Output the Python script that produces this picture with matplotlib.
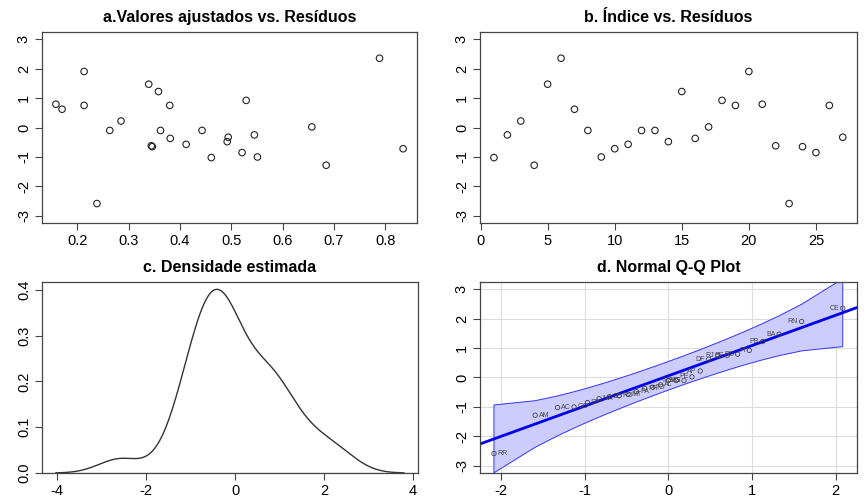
import numpy as np
import matplotlib
matplotlib.use('Agg')
import matplotlib.pyplot as plt
import seaborn as sns
from statistics import NormalDist

plt.rcParams['font.family'] = ['Liberation Sans', 'DejaVu Sans']
plt.rcParams['axes.unicode_minus'] = False

# residuos do modelo por UF
ufs = ['AC', 'AL', 'AP', 'AM', 'BA', 'CE', 'DF', 'ES', 'GO', 'MA', 'MT', 'MS', 'MG', 'PA',
       'PB', 'PR', 'PE', 'PI', 'RJ', 'RN', 'RS', 'RO', 'RR', 'SC', 'SP', 'SE', 'TO']
residuos = [-1.02, -0.25, 0.22, -1.28, 1.47, 2.35, 0.62, -0.10, -1.00, -0.72, -0.57, -0.10,
            -0.10, -0.48, 1.22, -0.37, 0.02, 0.92, 0.75, 1.90, 0.79, -0.62, -2.58, -0.65,
            -0.85, 0.75, -0.33]
ajustados = [0.461, 0.545, 0.285, 0.685, 0.339, 0.789, 0.170, 0.263, 0.551, 0.835, 0.412,
             0.362, 0.443, 0.492, 0.358, 0.381, 0.657, 0.529, 0.213, 0.213, 0.158, 0.344,
             0.238, 0.346, 0.521, 0.380, 0.494]
indice = list(range(1, len(residuos) + 1))

titulos = ['a.Valores ajustados vs. Resíduos', 'b. Índice vs. Resíduos',
           'c. Densidade estimada', 'd. Normal Q-Q Plot']

res = np.array(residuos)
n = len(res)

fig = plt.figure(figsize=(8.68, 5.04), dpi=100)
ax_a = fig.add_axes([0.0484, 0.5575, 0.432, 0.379])
ax_b = fig.add_axes([0.553, 0.5575, 0.434, 0.379])
ax_c = fig.add_axes([0.0484, 0.0615, 0.433, 0.379])
ax_d = fig.add_axes([0.553, 0.0615, 0.434, 0.379])


def estilo(ax, titulo):
    for s in ax.spines.values():
        s.set_color('#444444')
        s.set_linewidth(0.9)
    ax.tick_params(direction='out', length=5, width=0.8, color='#444444',
                   labelsize=10.5, pad=3)
    for lab in ax.get_yticklabels():
        lab.set_rotation(90)
        lab.set_va('center')
    ax.set_title(titulo, fontsize=11.5, fontweight='bold', pad=7)


circ = dict(s=22, facecolors='none', edgecolors='#222222', linewidths=0.8)

# a. ajustados vs residuos
ax_a.scatter(ajustados, residuos, **circ)
ax_a.margins(x=0.04)
ax_a.set_ylim(-3.24, 3.24)
ax_a.set_xticks([0.2, 0.3, 0.4, 0.5, 0.6, 0.7, 0.8])
ax_a.set_yticks([-3, -2, -1, 0, 1, 2, 3])
estilo(ax_a, titulos[0])

# b. indice vs residuos
ax_b.scatter(indice, residuos, **circ)
ax_b.margins(x=0.04)
ax_b.set_ylim(-3.24, 3.24)
ax_b.set_xticks([0, 5, 10, 15, 20, 25])
ax_b.set_yticks([-3, -2, -1, 0, 1, 2, 3])
estilo(ax_b, titulos[1])

# c. densidade (bw.nrd0 como no R)
sd = res.std(ddof=1)
q1, q3 = np.quantile(res, [0.25, 0.75])
bw = 0.9 * min(sd, (q3 - q1) / 1.34) * n ** -0.2
ax_c.axhline(0, color='#cccccc', lw=1)
sns.kdeplot(x=res, bw_method=bw / sd, cut=3, gridsize=512, color='#333333',
            lw=1, ax=ax_c)
ax_c.set_xlabel('')
ax_c.set_ylabel('')
ax_c.margins(0.04)
ax_c.set_xticks([-4, -2, 0, 2, 4])
ax_c.set_yticks([0.0, 0.1, 0.2, 0.3, 0.4])
ax_c.set_yticklabels(['0.0', '0.1', '0.2', '0.3', '0.4'])
estilo(ax_c, titulos[2])

# d. qq plot com envelope
ordem = np.argsort(res, kind='stable')
y_ord = res[ordem]
P = (np.arange(1, n + 1) - 0.5) / n
nd = NormalDist()
z = np.array([nd.inv_cdf(p) for p in P])
zq = np.array([nd.inv_cdf(0.25), nd.inv_cdf(0.75)])
b = (q3 - q1) / (zq[1] - zq[0])
a = q1 - b * zq[0]
dens = np.array([nd.pdf(v) for v in z])
se = (b / dens) * np.sqrt(P * (1 - P) / n)
fit = a + b * z
zz = nd.inv_cdf(0.975)
sup = fit + zz * se
inf = fit - zz * se

ax_d.grid(True, color='#dddddd', lw=0.8)
ax_d.set_axisbelow(True)
ax_d.fill(np.concatenate([z, z[::-1]]), np.concatenate([sup, inf[::-1]]),
          facecolor='#ccccff', edgecolor='#3333ff', lw=0.7, zorder=1)
ax_d.axline((0, a), slope=b, color='#0000ee', lw=2, zorder=2)
ax_d.scatter(z, y_ord, s=10, facecolors='none', edgecolors='#444444',
             linewidths=0.6, zorder=3)
for xi, yi, k in zip(z, y_ord, ordem):
    if xi > 0:
        ax_d.annotate(ufs[k], (xi, yi), xytext=(-2.5, 0), textcoords='offset points',
                      ha='right', va='center', fontsize=5, color='#444444', zorder=4)
    else:
        ax_d.annotate(ufs[k], (xi, yi), xytext=(2.5, 0), textcoords='offset points',
                      ha='left', va='center', fontsize=5, color='#444444', zorder=4)
ax_d.set_xlim(z[0] * 1.08, z[-1] * 1.08)
ax_d.set_ylim(-3.24, 3.24)
ax_d.set_xticks([-2, -1, 0, 1, 2])
ax_d.set_yticks([-3, -2, -1, 0, 1, 2, 3])
estilo(ax_d, titulos[3])

fig.savefig('out.png', dpi=100)
